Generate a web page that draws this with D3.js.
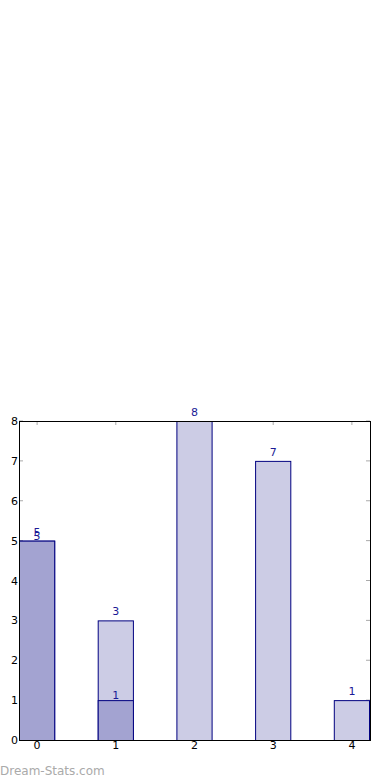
<html>
<script src="https://d3js.org/d3.v7.min.js"></script>
<style>
    body { margin: 0; background: #fff; }
    text { font-family: "DejaVu Sans", sans-serif; }
</style>
<body>
<svg id="chart" width="390" height="780"></svg>
<script>
const categories = [0, 1, 2, 3, 4];
const lightValues = [5, 3, 8, 7, 1];
const darkCats = [0, 1];
const darkValues = [5, 1];
const yTicks = [0, 1, 2, 3, 4, 5, 6, 7, 8];

const svg = d3.select('#chart');
const plotL = 19, plotR = 370, plotT = 421, plotB = 740;
const bw = 0.46;

const x = d3.scaleLinear().domain([-bw / 2, 4 + bw / 2]).range([plotL, plotR]);
const y = d3.scaleLinear().domain([0, 8]).range([plotB, plotT]);

// ticks (gray, inside)
const tickG = svg.append('g').attr('stroke', '#aaa').attr('stroke-width', 1);
categories.forEach(c => {
    tickG.append('line').attr('x1', x(c)).attr('x2', x(c)).attr('y1', plotB + 2).attr('y2', plotB - 4);
    tickG.append('line').attr('x1', x(c)).attr('x2', x(c)).attr('y1', plotT).attr('y2', plotT + 4);
});
yTicks.forEach(t => {
    tickG.append('line').attr('x1', plotL).attr('x2', plotL + 4).attr('y1', y(t)).attr('y2', y(t));
    tickG.append('line').attr('x1', plotR).attr('x2', plotR - 4).attr('y1', y(t)).attr('y2', y(t));
});

// light bars
svg.append('g').selectAll('rect').data(categories).join('rect')
    .attr('x', (d) => x(d - bw / 2) + 0.5)
    .attr('y', (d, i) => y(lightValues[i]) + 0.5)
    .attr('width', x(bw) - x(0) - 1)
    .attr('height', (d, i) => y(0) - y(lightValues[i]))
    .attr('fill', '#ccccE5').attr('stroke', '#000080').attr('stroke-width', 1);

svg.append('g').selectAll('text').data(categories).join('text')
    .attr('x', (d) => x(d))
    .attr('y', (d, i) => y(lightValues[i]) - 5)
    .attr('text-anchor', 'middle').attr('font-size', 11).attr('fill', '#1a1a96')
    .text((d, i) => lightValues[i]);

// dark bars
svg.append('g').selectAll('rect').data(darkCats).join('rect')
    .attr('x', (d) => x(d - bw / 2) + 0.5)
    .attr('y', (d, i) => y(darkValues[i]) + 0.5)
    .attr('width', x(bw) - x(0) - 1)
    .attr('height', (d, i) => y(0) - y(darkValues[i]))
    .attr('fill', '#a3a3d1').attr('stroke', '#000080').attr('stroke-width', 1);

svg.append('g').selectAll('text').data(darkCats).join('text')
    .attr('x', (d) => x(d))
    .attr('y', (d, i) => y(darkValues[i]) - 1)
    .attr('text-anchor', 'middle').attr('font-size', 11).attr('fill', '#1a1a96')
    .text((d, i) => darkValues[i]);

// frame
svg.append('rect').attr('x', plotL + 0.5).attr('y', plotT + 0.5)
    .attr('width', plotR - plotL).attr('height', plotB - plotT)
    .attr('fill', 'none').attr('stroke', '#000').attr('stroke-width', 1);

// tick labels
svg.append('g').selectAll('text').data(categories).join('text')
    .attr('x', (d) => x(d)).attr('y', plotB + 9)
    .attr('text-anchor', 'middle').attr('font-size', 11).attr('fill', '#000')
    .text((d) => d);
svg.append('g').selectAll('text').data(yTicks).join('text')
    .attr('x', plotL - 1).attr('y', (d) => y(d) + 4)
    .attr('text-anchor', 'end').attr('font-size', 11).attr('fill', '#000')
    .text((d) => d);

svg.append('text').attr('x', 0).attr('y', 775)
    .attr('font-size', 12).attr('fill', '#aaa')
    .text('Dream-Stats.com');
</script>
</body>
</html>
